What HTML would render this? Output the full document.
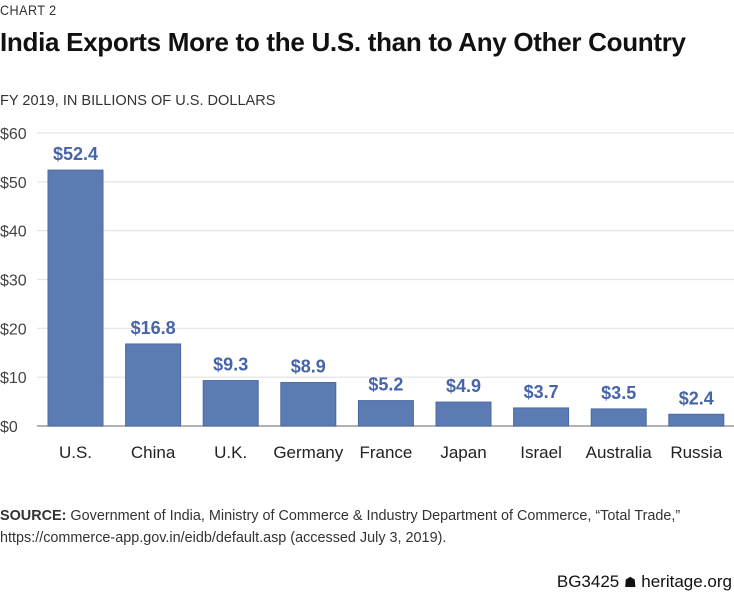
<!DOCTYPE html>
<html><head><meta charset="utf-8"><style>
body{margin:0;background:#fff;font-family:"Liberation Sans",sans-serif;}
#wrap{position:relative;width:734px;height:595px;overflow:hidden;}
.t{position:absolute;white-space:nowrap;}
</style></head><body>
<div id="wrap">
<div class="t" style="left:0;top:2px;font-size:14px;color:#333;letter-spacing:0.5px;transform:scaleX(0.9);transform-origin:left;">CHART 2</div>
<div class="t" style="left:0;top:27px;font-size:26px;font-weight:bold;color:#111;transform:scaleX(1.0);transform-origin:left;letter-spacing:-0.3px;">India Exports More to the U.S. than to Any Other Country</div>
<div class="t" style="left:0;top:92px;font-size:15px;color:#333;transform:scaleX(0.97);transform-origin:left;">FY 2019, IN BILLIONS OF U.S. DOLLARS</div>
<svg id="chart" width="734" height="480" style="position:absolute;left:0;top:0;"></svg>
<div class="t" style="left:0;top:505px;font-size:15px;color:#333;line-height:22px;transform:scaleX(0.96);transform-origin:left;"><b>SOURCE:</b> Government of India, Ministry of Commerce &amp; Industry Department of Commerce, “Total Trade,”<br>https://commerce-app.gov.in/eidb/default.asp (accessed July 3, 2019).</div>
<div class="t" style="right:2px;top:572px;font-size:17px;color:#111;">BG3425 <span style="font-size:14px">☗</span> heritage.org</div>
</div>
<script>
const categories=["U.S.","China","U.K.","Germany","France","Japan","Israel","Australia","Russia"];
const values=[52.4,16.8,9.3,8.9,5.2,4.9,3.7,3.5,2.4];
const valueLabels=["$52.4","$16.8","$9.3","$8.9","$5.2","$4.9","$3.7","$3.5","$2.4"];
const yTicks=[0,10,20,30,40,50,60];
const yTickLabels=["$0","$10","$20","$30","$40","$50","$60"];
const svg=document.getElementById('chart');const NS="http://www.w3.org/2000/svg";
const y0=426,y60=133,xL=37,xR=734,firstX=48,step=77.6,bw=55;
const y=v=>y0-(v/60)*(y0-y60);
const x=i=>firstX+i*step;
function mk(t,a){const e=document.createElementNS(NS,t);for(const k in a)e.setAttribute(k,a[k]);svg.appendChild(e);return e;}
yTicks.forEach((v,i)=>{
 const g=mk('line',{x1:xL,x2:xR,y1:y(v),y2:y(v),stroke:v===0?'#999':'#e3e3e3','stroke-width':v===0?1.5:1.2});
 
 
 const t=mk('text',{x:0,y:y(v)+6,'font-size':16,fill:'#444','font-family':'Liberation Sans, sans-serif'});
 t.textContent=yTickLabels[i];
 
 
});
categories.forEach((c,i)=>{
 const r=mk('rect',{x:x(i),y:y(values[i]),width:bw,height:y0-y(values[i]),fill:'#5d7bb3',stroke:'#4a68a3','stroke-width':1});
 
 
 const l=mk('text',{x:x(i)+bw/2,y:y(values[i])-10,'font-size':18,'font-weight':'bold',fill:'#4664a8','text-anchor':'middle','font-family':'Liberation Sans, sans-serif'});
 l.textContent=valueLabels[i];
 
 
 const cl=mk('text',{x:x(i)+bw/2,y:458,'font-size':17,fill:'#222','text-anchor':'middle','font-family':'Liberation Sans, sans-serif'});
 cl.textContent=c;
 
 
});
</script>
</body></html>
